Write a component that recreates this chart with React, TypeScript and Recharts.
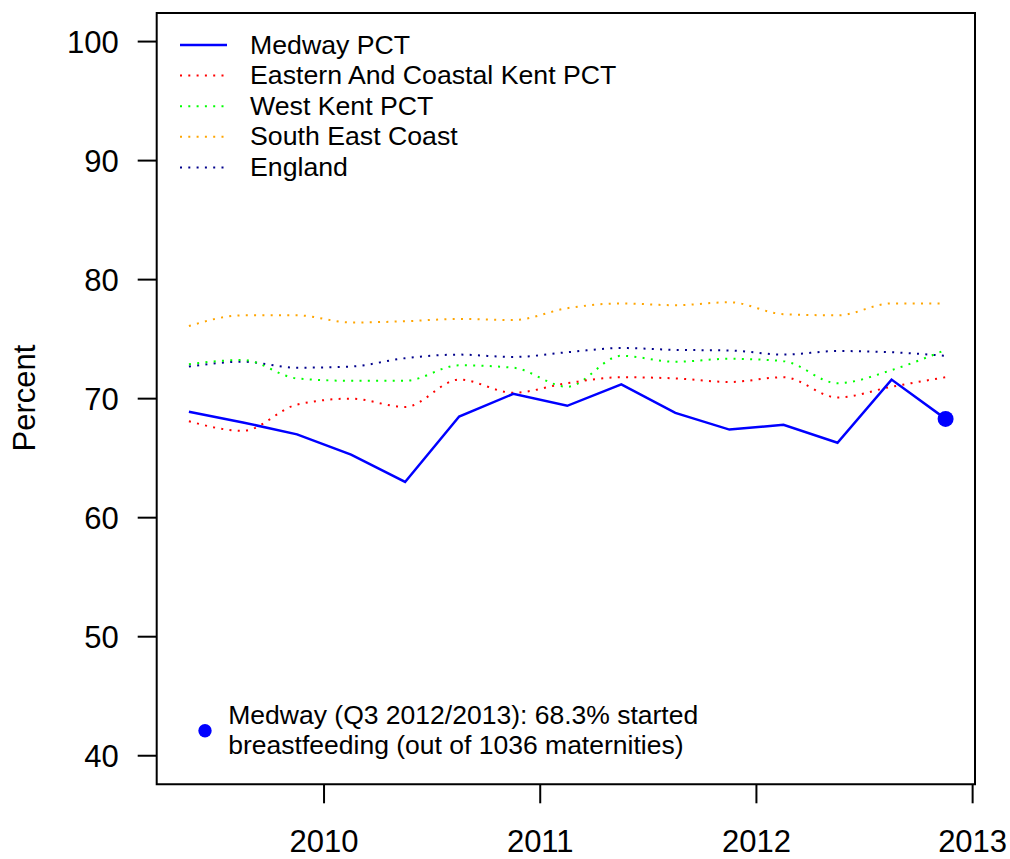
import React from "react";
import { LineChart, Line, XAxis, YAxis, ReferenceArea, ReferenceDot, Legend } from "recharts";

const quarterTimes = [
  2009.375, 2009.625, 2009.875, 2010.125, 2010.375, 2010.625, 2010.875, 2011.125,
  2011.375, 2011.625, 2011.875, 2012.125, 2012.375, 2012.625, 2012.875,
];
const medwayPct = [68.9, 68.0, 67.0, 65.3, 63.0, 68.5, 70.4, 69.4, 71.2, 68.8, 67.4, 67.8, 66.3, 71.6, 68.3];
const easternCoastalKentPct = [68.1, 67.3, 69.5, 70.0, 69.3, 71.6, 70.5, 71.3, 71.8, 71.7, 71.4, 71.8, 70.1, 71.0, 71.8];
const westKentPct = [72.9, 73.25, 71.7, 71.5, 71.5, 72.8, 72.6, 71.0, 73.6, 73.1, 73.35, 73.15, 71.3, 72.4, 74.1];
const southEastCoast = [76.1, 77.0, 77.0, 76.4, 76.5, 76.7, 76.6, 77.6, 78.0, 77.85, 78.1, 77.1, 77.0, 78.0, 78.0];
const england = [72.7, 73.1, 72.6, 72.7, 73.4, 73.7, 73.5, 73.9, 74.25, 74.1, 74.05, 73.7, 74.0, 73.9, 73.6];

const xTicks = [2010, 2011, 2012, 2013];
const yTicks = [40, 50, 60, 70, 80, 90, 100];
const xDomain = [2009.226, 2013.011];
const yDomain = [37.6, 102.4];

const seriesDefs = [
  { key: "medway", name: "Medway PCT", color: "#0000FF", dotted: false, values: medwayPct },
  { key: "eastern", name: "Eastern And Coastal Kent PCT", color: "#FF0000", dotted: true, values: easternCoastalKentPct },
  { key: "westkent", name: "West Kent PCT", color: "#00FF00", dotted: true, values: westKentPct },
  { key: "sec", name: "South East Coast", color: "#FFA500", dotted: true, values: southEastCoast },
  { key: "england", name: "England", color: "#00008B", dotted: true, values: england },
];

const data = quarterTimes.map((t, i) => {
  const row: Record<string, number> = { t };
  seriesDefs.forEach((s) => {
    row[s.key] = s.values[i];
  });
  return row;
});

const lastIdx = quarterTimes.length - 1;
const FONT = "'Liberation Sans', Arial, Helvetica, sans-serif";

const LegendContent = () => (
  <svg width={460} height={170} style={{ display: "block" }}>
    {seriesDefs.map((s, i) => {
      const cy = 20 + 30.6 * i;
      return (
        <g key={s.key}>
          <line
            x1={10}
            x2={57}
            y1={cy}
            y2={cy}
            stroke={s.color}
            strokeWidth={s.dotted ? 2 : 2.5}
            strokeDasharray={s.dotted ? "2 6.3" : undefined}
          />
          <text x={80} y={cy + 8.6} fontSize={26.7} fontFamily={FONT} fill="#000">
            {s.name}
          </text>
        </g>
      );
    })}
  </svg>
);

const PercentLabel = () => (
  <text
    x={35}
    y={398}
    transform="rotate(-90 35 398)"
    textAnchor="middle"
    fontSize={31}
    fontFamily={FONT}
    fill="#000"
  >
    Percent
  </text>
);

export default function App() {
  return (
    <div style={{ position: "absolute", left: 0, top: 0, width: 1010, height: 859, background: "#fff" }}>
      <LineChart
        width={1010}
        height={859}
        data={data}
        margin={{ top: 13, right: 35, left: 0, bottom: 0 }}
      >
        <XAxis
          dataKey="t"
          type="number"
          domain={xDomain}
          ticks={xTicks}
          allowDataOverflow
          height={74.7}
          axisLine={false}
          tickSize={19}
          tickMargin={27}
          tickLine={{ stroke: "#000", strokeWidth: 2 }}
          tick={{ fill: "#000", fontSize: 31, fontFamily: FONT }}
          interval={0}
        />
        <YAxis
          type="number"
          domain={yDomain}
          ticks={yTicks}
          allowDataOverflow
          width={156.7}
          axisLine={false}
          tickSize={19}
          tickMargin={19}
          tickLine={{ stroke: "#000", strokeWidth: 2 }}
          tick={{ fill: "#000", fontSize: 31, fontFamily: FONT }}
          interval={0}
          label={<PercentLabel />}
        />
        <ReferenceArea
          x1={xDomain[0]}
          x2={xDomain[1]}
          y1={yDomain[0]}
          y2={yDomain[1]}
          fill="none"
          fillOpacity={0}
          stroke="#000"
          strokeWidth={2}
          ifOverflow="visible"
        />
        {seriesDefs
          .slice()
          .reverse()
          .map((s) => (
            <Line
              key={s.key}
              dataKey={s.key}
              name={s.name}
              type={s.dotted ? "monotone" : "linear"}
              stroke={s.color}
              strokeWidth={s.dotted ? 2 : 2.5}
              strokeDasharray={s.dotted ? "2 6.3" : undefined}
              dot={false}
              activeDot={false}
              isAnimationActive={false}
            />
          ))}
        <ReferenceDot
          x={quarterTimes[lastIdx]}
          y={medwayPct[lastIdx]}
          r={8}
          fill="#0000FF"
          stroke="none"
          ifOverflow="visible"
        />
        <Legend
          layout="horizontal"
          verticalAlign="middle"
          align="center"
          content={<LegendContent />}
          wrapperStyle={{ position: "absolute", left: 170, top: 25, width: 460, height: 170, pointerEvents: "none" }}
        />
      </LineChart>
      <svg
        width={520}
        height={80}
        style={{ position: "absolute", left: 190, top: 690, pointerEvents: "none" }}
      >
        <circle cx={15} cy={40.7} r={6.7} fill="#0000FF" />
        <text x={38.3} y={34.3} fontSize={26.5} fontFamily={FONT} fill="#000">
          Medway (Q3 2012/2013): 68.3% started
        </text>
        <text x={38.3} y={64} fontSize={26.5} fontFamily={FONT} fill="#000">
          breastfeeding (out of 1036 maternities)
        </text>
      </svg>
    </div>
  );
}
